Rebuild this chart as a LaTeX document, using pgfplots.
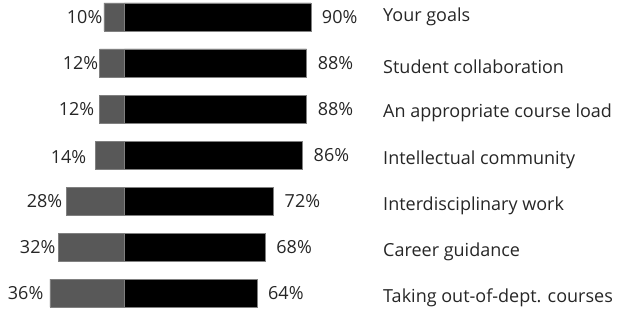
\documentclass[border=0pt]{standalone}
\usepackage{fontspec}
\setmainfont{Open Sans}
\usepackage{pgfplots}
\pgfplotsset{compat=1.18}
\definecolor{dgray}{RGB}{88,88,88}
\begin{document}
\begin{tikzpicture}
\begin{axis}[
  scale only axis, width=621bp, height=312bp,
  xmin=-60.14, xmax=239.86, ymin=0, ymax=312, y dir=reverse,
  hide axis, clip=false,
  lbl/.style={draw=none, mark=none, point meta=explicit symbolic, nodes near coords,
    nodes near coords style={inner sep=0pt, font=\fontsize{18bp}{21bp}\selectfont, text=black!85}},
]
\path (rel axis cs:0,0) rectangle (rel axis cs:1,1);
% gray (share) bars, plotted to the left of zero
\addplot[xbar, bar width=28bp, bar shift=0pt, fill=dgray, draw=gray] coordinates {
  (-10,17) (-12,63) (-12,109) (-14,155) (-28,201) (-32,247) (-36,293)};
% black bars
\addplot[xbar, bar width=28bp, bar shift=0pt, fill=black, draw=gray] coordinates {
  (90,17) (88,63) (88,109) (86,155) (72,201) (68,247) (64,293)};
% left percentages
\addplot[lbl, nodes near coords style={anchor=east}] coordinates {
  (-10.6,17) [10\%] (-12.6,63) [12\%] (-14.5,109) [12\%] (-18.4,157) [14\%]
  (-30.0,201) [28\%] (-33.3,247) [32\%] (-39.1,293) [36\%]};
% right percentages
\addplot[lbl, nodes near coords style={anchor=west, xshift=11bp}] coordinates {
  (90,17) [90\%] (88,63) [88\%] (88,109) [88\%] (86,155) [86\%]
  (72,201) [72\%] (68,247) [68\%] (64,293) [64\%]};
% category labels
\addplot[lbl, nodes near coords style={anchor=west}] coordinates {
  (124.9,17) [Your goals] (124.9,67) [Student collaboration]
  (124.9,113) [An appropriate course load] (124.9,160) [Intellectual community]
  (124.9,206) [Interdisciplinary work] (124.9,252) [Career guidance]
  (124.9,298) [Taking out-of-dept. courses]};
\end{axis}
\end{tikzpicture}
\end{document}
